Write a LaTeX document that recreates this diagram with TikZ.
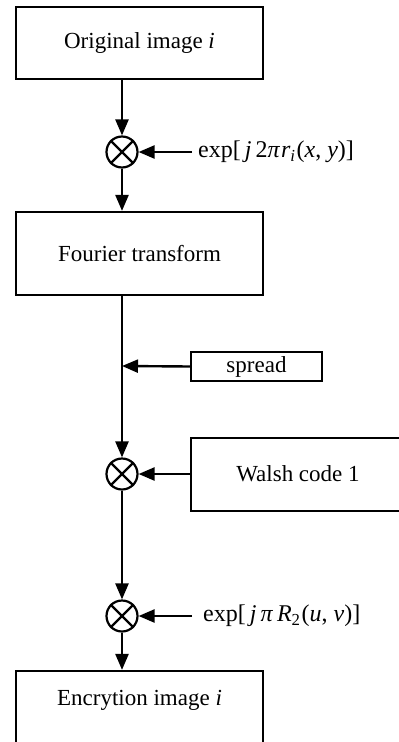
\documentclass[tikz,border=0pt]{standalone}
\usepackage{fontspec}
\setmainfont{Liberation Serif}
\usetikzlibrary{arrows.meta}
\tikzset{
  every picture/.style={x=1pt,y=-1pt},
  flow/.style={line width=2.4pt,-{Triangle[length=16pt,width=13pt]}},
  plain/.style={line width=2.2pt},
  blockbox/.style={draw,line width=2.2pt,inner sep=0pt,font=\fontsize{23}{27}\selectfont},
  mixer/.style={draw,circle,line width=2.2pt,minimum size=31pt,inner sep=0pt},
  lbl/.style={inner sep=0pt,font=\fontsize{23}{27}\selectfont},
  formula/.style={inner sep=0pt,anchor=west,font=\fontsize{24}{28}\selectfont},
}
\newcommand{\mixcross}[1]{\draw[plain] (#1.north east) -- (#1.south west) (#1.north west) -- (#1.south east);}
\begin{document}
\begin{tikzpicture}
\useasboundingbox (0,0) rectangle (399,742);
\clip (0,0) rectangle (399,742);
% main chain
\node[blockbox,minimum width=247pt,minimum height=72pt] (orig) at (139.5,43) {};
\node[lbl] at (orig.center) {Original image \textit{i}};
\node[mixer] (m1) at (122,152) {};
\mixcross{m1}
\node[blockbox,minimum width=247pt,minimum height=83pt] (fft) at (139.5,253.5) {};
\node[lbl] at (fft.center) {Fourier transform};
\coordinate (join) at (122,366);
\node[mixer] (m2) at (122,474) {};
\mixcross{m2}
\node[mixer] (m3) at (122,616) {};
\mixcross{m3}
\node[blockbox,minimum width=247pt,minimum height=80pt] (enc) at (139.5,711) {};
\node[lbl] at (139.5,700) {Encrytion image \textit{i}};
% side inputs
\node[formula] (k1) at (198,152) {exp[\,\textit{j}\,2\textit{π}\kern1pt\textit{r}\textsubscript{\textit{i}}\kern1pt(\textit{x},\ \textit{y})]};
\coordinate (k1s) at (192,152);
\node[blockbox,minimum width=131pt,minimum height=29pt] (spread) at (256.5,366.5) {spread};
\node[blockbox,minimum width=220pt,minimum height=73pt] (walsh) at (301,474.5) {};
\node[lbl] at (298,474) {Walsh code 1};
\node[formula] (k2) at (203,616) {exp[\,\textit{j}\,\textit{π}\,\textit{R}\textsubscript{2}\kern1pt(\textit{u},\ \textit{v})]};
\coordinate (k2s) at (192,616);
% connectors
\draw[flow] (orig.south -| m1) -- (m1.north);
\draw[flow] (m1.south) -- (fft.north -| m1);
\draw[flow] (fft.south -| join) -- (m2.north);
\draw[flow] (spread.west) -- (join);
\draw[flow] (k1s) -- (m1.east);
\draw[flow] (walsh.west |- m2) -- (m2.east);
\draw[flow] (m2.south) -- (m3.north);
\draw[flow] (k2s) -- (m3.east);
\draw[flow] (m3.south) -- (enc.north -| m3);
\end{tikzpicture}
\end{document}
